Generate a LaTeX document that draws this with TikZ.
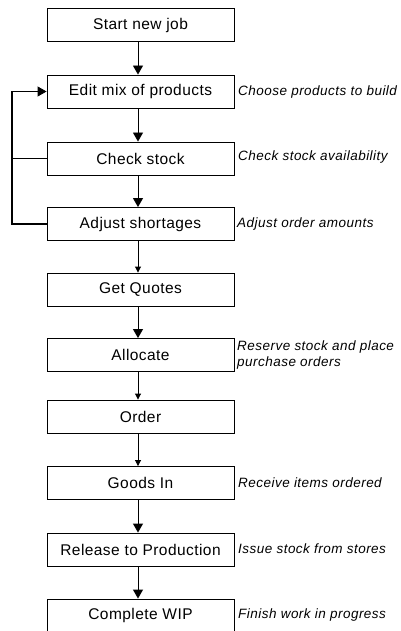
\documentclass[tikz,border=0pt]{standalone}
\usepackage{fontspec}
\setmainfont{Liberation Sans}
\newfontfamily\boxfont[LetterSpace=2.8]{Liberation Sans}
\newfontfamily\notefont[LetterSpace=3.5]{Liberation Sans}
\usetikzlibrary{arrows.meta,calc}
\tikzset{
  box/.style={draw, line width=0.9pt, minimum width=187pt, minimum height=33pt, inner sep=0pt,
    font=\boxfont\fontsize{15.5}{17}\selectfont},
  note/.style={anchor=west, inner sep=0pt, align=left,
    font=\notefont\fontsize{13.5}{16}\selectfont\itshape},
  bigarr/.style={line width=0.9pt, -{Triangle[length=9pt,width=10pt]}},
  smallarr/.style={line width=0.9pt, -{Triangle[length=6pt,width=6pt]}},
  loopline/.style={line width=1.8pt},
}
\begin{document}
\begin{tikzpicture}[x=1pt,y=-1pt]
\useasboundingbox (0,0) rectangle (400,631);
\clip (0,0) rectangle (400,631);
\fill[white] (0,0) rectangle (400,631);
\node[box] (n1) at (140.5,25) {Start new job};
\node[box] (n2) at (140.5,91.5) {Edit mix of products};
\node[box] (n3) at (140.5,158.5) {Check stock};
\node[box] (n4) at (140.5,224) {Adjust shortages};
\node[box] (n5) at (140.5,289.5) {Get Quotes};
\node[box] (n6) at (140.5,355) {Allocate};
\node[box] (n7) at (140.5,416.5) {Order};
\node[box] (n8) at (140.5,483) {Goods In};
\node[box] (n9) at (140.5,549.5) {Release to Production};
\node[box] (n10) at (140.5,615.5) {Complete WIP};

\draw[bigarr] ([xshift=-2.5pt]n1.south) -- ([xshift=-2.5pt]n2.north);
\draw[bigarr] ([xshift=-2.5pt]n2.south) -- ([xshift=-2.5pt]n3.north);
\draw[bigarr] ([xshift=-2.5pt]n3.south) -- ([xshift=-2.5pt]n4.north);
\draw[smallarr] ([xshift=-2.5pt]n4.south) -- ([xshift=-2.5pt]n5.north);
\draw[bigarr] ([xshift=-2.5pt]n5.south) -- ([xshift=-2.5pt]n6.north);
\draw[smallarr] ([xshift=-2.5pt]n6.south) -- ([xshift=-2.5pt]n7.north);
\draw[smallarr] ([xshift=-2.5pt]n7.south) -- ([xshift=-2.5pt]n8.north);
\draw[bigarr] ([xshift=-2.5pt]n8.south) -- ([xshift=-2.5pt]n9.north);
\draw[bigarr] ([xshift=-2.5pt]n9.south) -- ([xshift=-2.5pt]n10.north);

\coordinate (lt) at (12,91.5);
\draw[loopline] (n4.west) -| (lt) -- ([xshift=-9pt]n2.west);
\draw[line width=0.9pt, -{Triangle[length=9pt,width=10pt]}] ([xshift=-10pt]n2.west) -- (n2.west);
\draw[loopline] (n3.west) -- (n3.west -| lt);

\node[note] (a2) at (238,92) {Choose products to build};
\node[note] (a3) at (238,157.5) {Check stock availability};
\node[note] (a4) at (237,224) {Adjust order amounts};
\node[note] (a6) at (237,355) {Reserve stock and place\\purchase orders};
\node[note] (a8) at (238,483) {Receive items ordered};
\node[note] (a9) at (238,549) {Issue stock from stores};
\node[note] (a10) at (238,615) {Finish work in progress};
\end{tikzpicture}
\end{document}
